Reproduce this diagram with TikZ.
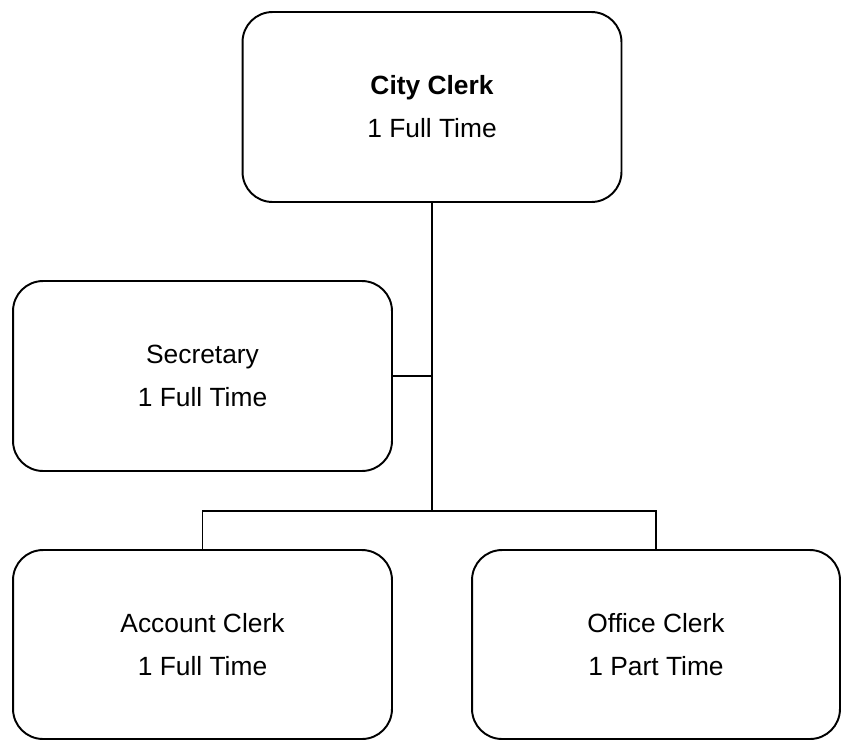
\documentclass[tikz,border=0pt]{standalone}
\usepackage{fontspec}
\setmainfont{Liberation Sans}
\usetikzlibrary{positioning,calc}
\tikzset{
  post/.style={rectangle, rounded corners=0.6cm, draw=black, line width=1.1pt,
    align=center, minimum width=7.58cm, minimum height=3.8cm,
    inner sep=0pt, font=\fontsize{15}{24.5}\selectfont},
  link/.style={draw, line width=1.1pt}
}
\begin{document}
\begin{tikzpicture}[x=0.02cm, y=-0.02cm]

\useasboundingbox (0,0) rectangle (841,741);

\node[post] (clerk) at (432,107) {\textbf{City Clerk}\\1 Full Time};
\node[post] (secretary) at (202.5,376) {Secretary\\1 Full Time};
\node[post, minimum height=3.78cm] (account) at (202.5,644.5) {Account Clerk\\1 Full Time};
\node[post, minimum width=7.36cm, minimum height=3.78cm] (office) at (656,644.5) {Office Clerk\\1 Part Time};

\coordinate (bus) at (432,511);

\draw[link] (clerk) -- (bus);
\draw[link] (secretary.east) -- (secretary.east -| bus);
\draw[link] (account.north) |- (bus) -| (office.north);

\end{tikzpicture}
\end{document}
